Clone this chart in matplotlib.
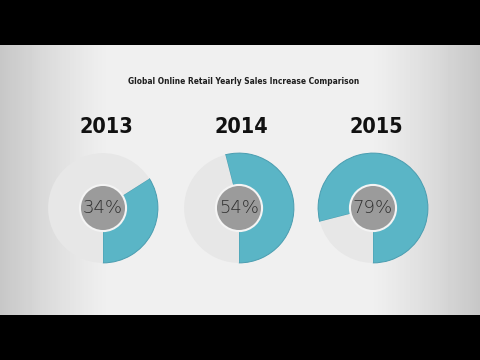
import matplotlib
matplotlib.use('Agg')
import matplotlib.pyplot as plt
from matplotlib.patches import Circle
import numpy as np

# data
years = ['2013', '2014', '2015']
increase = [34, 54, 79]
title = 'Global Online Retail Yearly Sales Increase Comparison'

W, H = 480, 360
teal = '#5ab5c6'
rest = '#e7e7e7'
centre = '#9b9b9b'

fig = plt.figure(figsize=(4.8, 3.6), dpi=100, facecolor='black')

# background panel with soft vignette
bg = fig.add_axes([0, 45 / H, 1, 270 / H])
gx = np.linspace(-1, 1, 240)
gy = np.linspace(-1, 1, 135)
xx, yy = np.meshgrid(gx, gy)
shade = 0.94 - 0.16 * np.clip(np.abs(xx) - 0.55, 0, None) ** 1.2 / 0.45 ** 1.2
bg.imshow(shade, cmap='gray', vmin=0, vmax=1, aspect='auto', extent=[0, 1, 0, 1])
bg.set_axis_off()

fig.text(244 / W, 1 - 82 / H, title, ha='center', va='center',
         fontsize=6, fontweight='bold', family='DejaVu Sans', fontstretch='condensed',
         color='#1e1e1e')

centres_x = [103, 239, 373]
cy = 208
r = 56
year_x = [106, 241, 376]

for i, (yr, p) in enumerate(zip(years, increase)):
    ax = fig.add_axes([(centres_x[i] - r) / W, 1 - (cy + r) / H, 2 * r / W, 2 * r / H])
    wedges, _ = ax.pie([p, 100 - p], colors=[teal, rest], startangle=270, counterclock=True,
                       radius=1, wedgeprops=dict(linewidth=0))
    wedges[0].set_edgecolor('#4a9db0')
    wedges[0].set_linewidth(0.7)
    ax.add_patch(Circle((0, 0), 0.42, facecolor=centre, edgecolor='#f4f4f4', linewidth=1.5, zorder=5))
    ax.text(0, 0, f'{p}%', ha='center', va='center', fontsize=13, color='#2e2e2e',
            family='DejaVu Sans', fontweight='light', zorder=6)
    ax.set_xlim(-1.02, 1.02)
    ax.set_ylim(-1.02, 1.02)
    ax.set_aspect('equal')
    ax.set_axis_off()
    fig.text(year_x[i] / W, 1 - 127 / H, yr, ha='center', va='center',
             fontsize=15.5, fontweight='bold', family='DejaVu Sans', fontstretch='condensed',
             color='#111111')

fig.savefig('out.png', dpi=100, facecolor='black')
